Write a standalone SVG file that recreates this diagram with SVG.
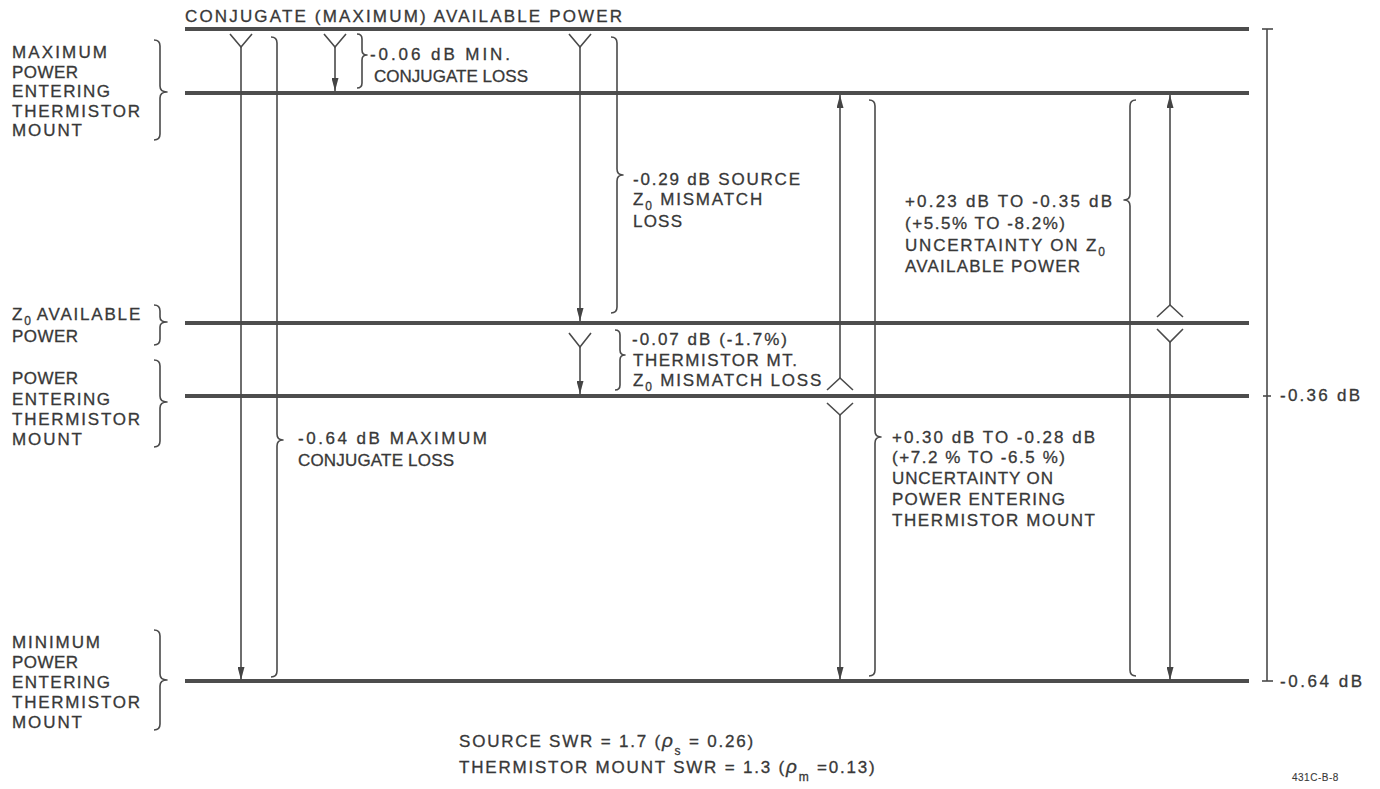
<svg xmlns="http://www.w3.org/2000/svg" width="1380" height="789" viewBox="0 0 1380 789">
<style>
text{font-family:"Liberation Sans",Arial,sans-serif;font-size:17px;fill:#383838;stroke:#383838;stroke-width:0.3px}
.ls{letter-spacing:1.8px}
.lvl{stroke:#4d4d4d;stroke-width:4;fill:none}
.ln{stroke:#4a4a4a;stroke-width:1.6;fill:none}
.br{stroke:#4a4a4a;stroke-width:1.6;fill:none;stroke-linejoin:round}
.sub{font-size:12px}
.sm{font-size:10px;letter-spacing:0.5px;stroke-width:0.1px}
</style>
<defs>
<marker id="ah" viewBox="0 0 13 7" refX="13" refY="3.5" markerWidth="13" markerHeight="7" markerUnits="userSpaceOnUse" orient="auto">
<path d="M0,0 L13,3.5 L0,7 Z" fill="#444"/>
</marker>
</defs>
<rect width="1380" height="789" fill="#ffffff"/>

<g id="level-conjugate">
<line class="lvl" x1="185" y1="29" x2="1249" y2="29"/>
<text x="185" y="22" textLength="437" lengthAdjust="spacing">CONJUGATE (MAXIMUM) AVAILABLE POWER</text>
</g>

<g id="level-max-entering">
<line class="lvl" x1="185" y1="93" x2="1249" y2="93"/>
<text x="12" y="58" textLength="95" lengthAdjust="spacing">MAXIMUM</text>
<text x="12" y="77.5" textLength="66" lengthAdjust="spacing">POWER</text>
<text x="12" y="97" textLength="98" lengthAdjust="spacing">ENTERING</text>
<text x="12" y="116.5" textLength="128" lengthAdjust="spacing">THERMISTOR</text>
<text x="12" y="136" textLength="70" lengthAdjust="spacing">MOUNT</text>
<path class="br" d="M154,40 Q160,40 160,46 L160,86 Q160,92 167,92 Q160,92 160,98 L160,134 Q160,140 154,140"/>
</g>

<g id="level-z0-available">
<line class="lvl" x1="185" y1="323" x2="1249" y2="323"/>
<text class="ls" x="12" y="320">Z<tspan class="sub" dy="5">0</tspan><tspan dy="-5" dx="4">AVAILABLE</tspan></text>
<text x="12" y="342" textLength="66" lengthAdjust="spacing">POWER</text>
<path class="br" d="M154,305 Q160,305 160,311 L160,317 Q160,322 167,322 Q160,322 160,327 L160,339 Q160,345 154,345"/>
</g>

<g id="level-entering">
<line class="lvl" x1="185" y1="396" x2="1249" y2="396"/>
<text x="12" y="384" textLength="66" lengthAdjust="spacing">POWER</text>
<text x="12" y="405" textLength="98" lengthAdjust="spacing">ENTERING</text>
<text x="12" y="425" textLength="128" lengthAdjust="spacing">THERMISTOR</text>
<text x="12" y="445" textLength="70" lengthAdjust="spacing">MOUNT</text>
<path class="br" d="M154,360 Q160,360 160,366 L160,396 Q160,402 167,402 Q160,402 160,408 L160,441 Q160,447 154,447"/>
</g>

<g id="level-min-entering">
<line class="lvl" x1="185" y1="681" x2="1249" y2="681"/>
<text x="12" y="648" textLength="88" lengthAdjust="spacing">MINIMUM</text>
<text x="12" y="668" textLength="66" lengthAdjust="spacing">POWER</text>
<text x="12" y="688" textLength="98" lengthAdjust="spacing">ENTERING</text>
<text x="12" y="708" textLength="128" lengthAdjust="spacing">THERMISTOR</text>
<text x="12" y="728" textLength="70" lengthAdjust="spacing">MOUNT</text>
<path class="br" d="M154,630 Q160,630 160,636 L160,674 Q160,680 167,680 Q160,680 160,686 L160,724 Q160,730 154,730"/>
</g>

<g id="scale">
<line class="ln" x1="1267" y1="29" x2="1267" y2="681"/>
<line class="ln" x1="1262" y1="29" x2="1273" y2="29"/>
<line class="ln" x1="1263" y1="396" x2="1271" y2="396"/>
<line class="ln" x1="1262" y1="681" x2="1273" y2="681"/>
<text x="1280" y="401" textLength="80" lengthAdjust="spacing">-0.36 dB</text>
<text x="1280" y="687" textLength="82" lengthAdjust="spacing">-0.64 dB</text>
</g>

<g id="connectors">
<polyline class="ln" points="230,34 241,47 252,34"/>
<line class="ln" x1="241" y1="47" x2="241" y2="680" marker-end="url(#ah)"/>
<polyline class="ln" points="324,34 335,47 346,34"/>
<line class="ln" x1="335" y1="47" x2="335" y2="91" marker-end="url(#ah)"/>
<polyline class="ln" points="569,34 580,47 591,34"/>
<line class="ln" x1="580" y1="47" x2="580" y2="321" marker-end="url(#ah)"/>
<polyline class="ln" points="569,333 580,347 591,333"/>
<line class="ln" x1="580" y1="347" x2="580" y2="394" marker-end="url(#ah)"/>
<line class="ln" x1="840" y1="378" x2="840" y2="95" marker-end="url(#ah)"/>
<polyline class="ln" points="827,390 840,378 853,390"/>
<polyline class="ln" points="827,403 840,415 853,403"/>
<line class="ln" x1="840" y1="415" x2="840" y2="680" marker-end="url(#ah)"/>
<line class="ln" x1="1170" y1="305" x2="1170" y2="95" marker-end="url(#ah)"/>
<polyline class="ln" points="1157,317 1170,305 1183,317"/>
<polyline class="ln" points="1157,329 1170,342 1183,329"/>
<line class="ln" x1="1170" y1="342" x2="1170" y2="680" marker-end="url(#ah)"/>
</g>

<g id="label-max-conj-loss">
<path class="br" d="M271,37 Q277,37 277,43 L277,434 Q277,440 283,440 Q277,440 277,446 L277,671 Q277,677 271,677"/>
<text x="298" y="444" textLength="189" lengthAdjust="spacing">-0.64 dB MAXIMUM</text>
<text x="298" y="466" textLength="156" lengthAdjust="spacing">CONJUGATE LOSS</text>
</g>

<g id="label-min-conj-loss">
<path class="br" d="M357,34 Q362,34 362,39 L362,50 Q362,55 367,55 Q362,55 362,60 L362,83 Q362,88 357,88"/>
<text x="370" y="60" textLength="140" lengthAdjust="spacing">-0.06 dB MIN.</text>
<text x="374" y="82" textLength="154" lengthAdjust="spacing">CONJUGATE LOSS</text>
</g>

<g id="label-source-mismatch">
<path class="br" d="M611,37 Q617,37 617,43 L617,169 Q617,175 623,175 Q617,175 617,181 L617,307 Q617,313 611,313"/>
<text x="633" y="185" textLength="167" lengthAdjust="spacing">-0.29 dB SOURCE</text>
<text class="ls" x="633" y="205">Z<tspan class="sub" dy="5">0</tspan><tspan dy="-5">  MISMATCH</tspan></text>
<text x="633" y="227" textLength="49" lengthAdjust="spacing">LOSS</text>
</g>

<g id="label-thermistor-mismatch">
<path class="br" d="M615,330 Q620,330 620,335 L620,350 Q620,355 625,355 Q620,355 620,360 L620,385 Q620,390 615,390"/>
<text x="632" y="345" textLength="155" lengthAdjust="spacing">-0.07 dB (-1.7%)</text>
<text x="633" y="366" textLength="164" lengthAdjust="spacing">THERMISTOR MT.</text>
<text class="ls" x="633" y="386">Z<tspan class="sub" dy="5">0</tspan><tspan dy="-5"> MISMATCH LOSS</tspan></text>
</g>

<g id="label-uncertainty-z0">
<path class="br" d="M1136,100 Q1130,100 1130,106 L1130,194 Q1130,200 1124,200 Q1130,200 1130,206 L1130,670 Q1130,676 1136,676"/>
<text x="905" y="207" textLength="207" lengthAdjust="spacing">+0.23 dB TO -0.35 dB</text>
<text x="905" y="229" textLength="160" lengthAdjust="spacing">(+5.5% TO -8.2%)</text>
<text class="ls" x="905" y="251">UNCERTAINTY ON Z<tspan class="sub" dy="5">0</tspan></text>
<text x="905" y="272" textLength="175" lengthAdjust="spacing">AVAILABLE POWER</text>
</g>

<g id="label-uncertainty-entering">
<path class="br" d="M869,100 Q875,100 875,106 L875,431 Q875,437 881,437 Q875,437 875,443 L875,670 Q875,676 869,676"/>
<text x="892" y="443" textLength="203" lengthAdjust="spacing">+0.30 dB TO -0.28 dB</text>
<text x="892" y="463" textLength="173" lengthAdjust="spacing">(+7.2 % TO -6.5 %)</text>
<text x="892" y="484" textLength="161" lengthAdjust="spacing">UNCERTAINTY ON</text>
<text x="892" y="505" textLength="173" lengthAdjust="spacing">POWER ENTERING</text>
<text x="892" y="526" textLength="203" lengthAdjust="spacing">THERMISTOR MOUNT</text>
</g>

<g id="notes">
<text class="ls" x="459" y="747">SOURCE SWR = 1.7 (<tspan font-style="italic" font-size="19">ρ</tspan><tspan class="sub" dy="8">s</tspan><tspan dy="-8"> = 0.26)</tspan></text>
<text class="ls" x="459" y="773">THERMISTOR MOUNT SWR = 1.3 (<tspan font-style="italic" font-size="19">ρ</tspan><tspan class="sub" dy="8">m</tspan><tspan dy="-8"> =0.13)</tspan></text>
<text class="sm" x="1292" y="781">431C-B-8</text>
</g>
</svg>
